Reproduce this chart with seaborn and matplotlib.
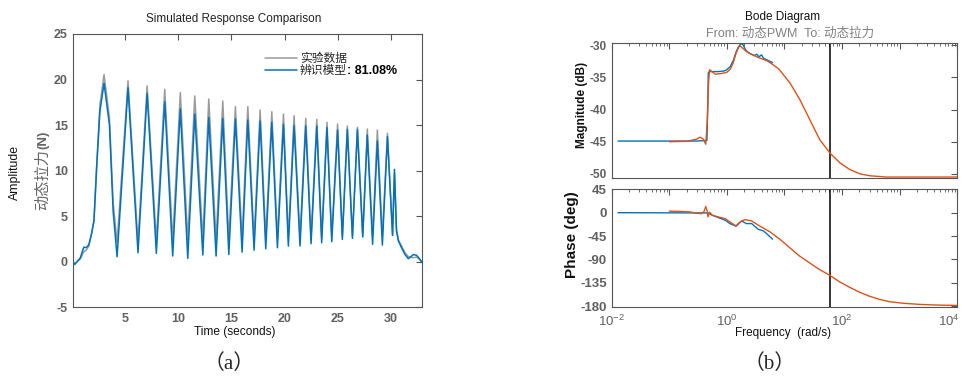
import math
import seaborn as sns
import matplotlib.pyplot as plt
from matplotlib.ticker import LogLocator, FuncFormatter, NullFormatter, MultipleLocator

# (a) simulated response comparison
time_s = [0.0, 0.23, 0.76, 1.08, 1.3, 1.55, 1.8, 2.04, 2.3, 2.6, 2.99, 3.5, 3.85, 4.22,
          5.25, 6.19, 7.05, 7.92, 8.71, 9.46, 10.18, 10.88, 11.54, 12.3, 12.86, 13.55,
          14.18, 14.75, 15.37, 16.0, 16.54, 17.13, 17.7, 18.23, 18.8, 19.33, 19.9, 20.36,
          20.9, 21.46, 22.0, 22.5, 23.04, 23.5, 24.0, 24.45, 25.0, 25.45, 25.92, 26.4,
          26.87, 27.37, 27.8, 28.3, 28.75, 29.22, 29.7, 30.18, 30.36, 30.55, 30.73, 31.0,
          31.35, 31.67, 31.9, 32.14, 32.45, 32.7, 32.96]
measured_N = [0.1, -0.2, 0.3, 1.1, 1.25, 1.7, 3.0, 4.5, 10.6, 17.2, 20.55, 15.8, 6.5, 2.1,
              19.84, 2.2, 19.29, 2.3, 18.93, 2.3, 18.56, 2.4, 18.2, 2.4, 17.87, 2.4,
              17.65, 2.5, 17.02, 2.5, 17.02, 2.5, 16.66, 2.6, 16.47, 2.6, 16.22, 2.6,
              16.03, 2.7, 15.74, 2.7, 15.63, 2.7, 15.3, 2.8, 15.12, 2.8, 14.9, 2.8,
              14.76, 2.9, 14.57, 2.8, 14.46, 2.8, 14.1, 2.9, 9.7, 3.6, 2.4, 1.8,
              1.0, 0.55, 0.5, 0.45, 0.5, 0.3, 0.0]
model_N = [0.1, -0.3, 0.45, 1.6, 1.55, 1.85, 3.0, 4.5, 10.5, 16.5, 19.6, 15.0, 5.5, 0.55,
           19.1, 0.99, 18.49, 0.92, 17.57, 0.63, 16.77, 0.37, 16.22, 0.74, 15.85, 0.63,
           15.74, 0.8, 15.67, 1.06, 15.56, 1.28, 15.45, 1.43, 15.3, 1.54, 15.09, 1.72,
           14.94, 1.72, 14.9, 1.98, 14.9, 2.09, 14.72, 2.2, 14.46, 2.46, 14.53, 2.57,
           14.53, 2.71, 13.91, 1.91, 13.25, 1.83, 13.73, 2.9, 10.15, 3.4, 2.3, 1.6,
           0.8, 0.33, 0.55, 0.8, 0.7, 0.35, -0.1]
fit_pct = 81.08

# (b) bode diagram
meas_freq = [0.0129, 0.1, 0.3, 0.45, 0.465, 0.475, 0.5, 0.7, 0.9, 1.0, 1.15, 1.3, 1.45,
             1.6, 1.75, 1.9, 2.1, 2.4, 2.7, 3.0, 3.3, 3.6, 4.0, 4.3, 5.0, 6.2]
meas_mag_db = [-44.9, -44.9, -44.9, -44.8, -40.0, -34.3, -34.1, -34.1, -34.0, -33.8, -33.3,
               -32.3, -31.0, -30.2, -29.75, -29.9, -30.7, -31.2, -31.4, -31.6, -31.4,
               -31.8, -31.5, -32.0, -32.3, -32.7]
meas_ph_freq = [0.0129, 0.47, 0.56, 0.94, 1.13, 1.44, 1.8, 2.19, 2.7, 3.1, 3.5, 4.3, 5.2, 6.2]
meas_phase_deg = [0, -0.5, -5, -14.6, -21, -26, -16, -21, -21, -27, -32, -35, -43, -51]

model_freq = [0.1, 0.2, 0.3, 0.34, 0.39, 0.43, 0.455, 0.48, 0.5, 0.55, 0.63, 0.8, 1.0, 1.15,
              1.28, 1.45, 1.6, 1.7, 1.85, 2.2, 2.7, 3.5, 4.9, 5.6, 8.0, 12.5, 18.6, 27.6,
              41, 62, 92, 137, 204, 302, 590, 10000]
model_mag_db = [-45.0, -44.95, -44.6, -44.3, -44.6, -45.4, -42.0, -36.0, -33.8, -34.1, -34.5,
                -34.4, -34.2, -33.7, -32.8, -31.2, -30.3, -30.1, -30.4, -31.0, -31.45, -31.9,
                -32.4, -32.7, -33.7, -35.9, -38.5, -41.6, -44.7, -46.8, -48.3, -49.35, -50.0,
                -50.3, -50.5, -50.5]
model_ph_freq = [0.1, 0.15, 0.23, 0.3, 0.36, 0.4, 0.43, 0.455, 0.47, 0.5, 0.56, 0.7, 0.94,
                 1.13, 1.44, 1.69, 2.06, 2.7, 3.76, 5.6, 8.3, 12.5, 18, 27.6, 40, 62, 90,
                 137, 200, 302, 450, 680, 1200, 2240, 5000, 10000]
model_phase_deg = [3, 2.5, 1.5, -1, -2, 2, 12, 3, -8, 1, -5, -8, -11.5, -18, -25.4, -18,
                   -13.3, -16, -26, -37, -51, -68, -83, -97, -109, -121, -133, -144, -153,
                   -161, -167, -171.6, -174.5, -176.6, -178, -178.5]
nyquist = 62.83

sns.set_style('white')
plt.rcParams['font.family'] = ['Liberation Sans', 'Noto Sans CJK SC']
plt.rcParams['mathtext.fontset'] = 'custom'
plt.rcParams['mathtext.rm'] = 'Liberation Sans'
plt.rcParams['mathtext.bf'] = 'Liberation Sans:bold'
plt.rcParams['axes.unicode_minus'] = False
plt.rcParams['axes.edgecolor'] = '#555555'
plt.rcParams['axes.linewidth'] = 0.8

gray = '#9a9a9a'
blue = '#0072BD'
orange = '#D95319'
tick_gray = '#606060'

fig = plt.figure(figsize=(9.66, 3.76), dpi=100)
ax_t = fig.add_axes([0.0753, 0.1827, 0.3616, 0.7269])
ax_m = fig.add_axes([0.6332, 0.5274, 0.3578, 0.3574])
ax_p = fig.add_axes([0.6332, 0.1843, 0.3578, 0.3122])


def style_ticks(ax):
    ax.tick_params(which='both', direction='in', top=True, right=True,
                   color='#555555', labelcolor=tick_gray)
    ax.tick_params(which='major', length=4, width=0.8)
    ax.tick_params(which='minor', length=2, width=0.6)


# ---- (a)
sns.lineplot(x=time_s, y=measured_N, ax=ax_t, color=gray, linewidth=1.1,
             estimator=None, label='实验数据')
sns.lineplot(x=time_s, y=model_N, ax=ax_t, color=blue, linewidth=1.1,
             estimator=None, label='辨识模型')
ax_t.set_xlim(0.04, 32.96)
ax_t.set_ylim(-5, 25)
ax_t.xaxis.set_major_locator(MultipleLocator(5))
ax_t.yaxis.set_major_locator(MultipleLocator(5))
style_ticks(ax_t)
ax_t.tick_params(axis='x', pad=4)
for lab in ax_t.get_xticklabels() + ax_t.get_yticklabels():
    lab.set_fontweight('bold')
    lab.set_fontsize(9)
leg = ax_t.legend(loc='upper left', bbox_to_anchor=(0.55, 0.93), frameon=False,
                  fontsize=8.5, handlelength=2.7, handletextpad=0.25, labelspacing=0.0,
                  borderaxespad=0, borderpad=0)

fig.text(0.2422, 0.9495, 'Simulated Response Comparison', ha='center', va='center',
         fontsize=8.5, color='#222222')
fig.text(0.0155, 0.54, 'Amplitude', rotation=90, ha='center', va='center',
         fontsize=8.8, color='#111111')
cjk_lab = fig.text(0.0445, 0.5213, '动态拉力', rotation=90, ha='center', va='center',
                   fontsize=11, color='#666666')
fig.text(0.2433, 0.116, 'Time (seconds)', ha='center', va='center', fontsize=8.6,
         color='#111111')

# ---- (b)
for ax in (ax_m, ax_p):
    ax.set_xscale('log')
    ax.set_xlim(1e-2, 1e4)
    ax.axvline(nyquist, color='black', linewidth=1.1)
    ax.xaxis.set_major_locator(LogLocator(base=10, numticks=12))
    ax.xaxis.set_minor_locator(LogLocator(base=10, subs=range(2, 10), numticks=12))
    ax.xaxis.set_minor_formatter(NullFormatter())
    style_ticks(ax)

sns.lineplot(x=model_freq, y=model_mag_db, ax=ax_m, color=orange, linewidth=1.0,
             estimator=None, zorder=3)
sns.lineplot(x=meas_freq, y=meas_mag_db, ax=ax_m, color=blue, linewidth=1.0,
             estimator=None, zorder=2)
sns.lineplot(x=model_ph_freq, y=model_phase_deg, ax=ax_p, color=orange, linewidth=1.0,
             estimator=None, zorder=3)
sns.lineplot(x=meas_ph_freq, y=meas_phase_deg, ax=ax_p, color=blue, linewidth=1.0,
             estimator=None, zorder=2)

ax_m.set_ylim(-50.6, -29.7)
ax_m.yaxis.set_major_locator(MultipleLocator(5))
ax_m.xaxis.set_major_formatter(NullFormatter())
ax_p.set_ylim(-181, 45)
ax_p.yaxis.set_major_locator(MultipleLocator(45))


def even_decades(v, pos):
    # last decade label is drawn separately, nudged inside like matlab does
    e = int(round(math.log10(v)))
    return r'$10^{%d}$' % e if e % 2 == 0 and e < 4 else ''


ax_p.xaxis.set_major_formatter(FuncFormatter(even_decades))
ax_p.tick_params(axis='x', labelsize=9.5, pad=5)
ax_p.annotate(r'$10^{4}$', xy=(1, 0), xycoords='axes fraction', xytext=(-6.3, -5),
              textcoords='offset points', ha='center', va='top', fontsize=9.5,
              color=tick_gray)
for ax, size in ((ax_m, 8.5), (ax_p, 9.5)):
    ax.set_xlabel('')
    ax.set_ylabel('')
    for lab in ax.get_yticklabels():
        lab.set_fontweight('bold')
        lab.set_fontsize(size)

fig.text(0.8102, 0.9556, 'Bode Diagram', ha='center', va='center', fontsize=8.5,
         color='#111111')
fig.text(0.8178, 0.9114, 'From: 动态PWM  To: 动态拉力', ha='center', va='center',
         fontsize=9, color='#808080')
fig.text(0.6022, 0.7207, 'Magnitude (dB)', rotation=90, ha='center', va='center',
         fontsize=8.5, fontweight='bold', color='#111111')
fig.text(0.5924, 0.375, 'Phase (deg)', rotation=90, ha='center', va='center',
         fontsize=11, fontweight='bold', color='#111111')
fig.text(0.8102, 0.1144, 'Frequency  (rad/s)', ha='center', va='center', fontsize=8.5,
         color='#111111')

cap_font = ['Liberation Serif', 'Noto Sans CJK SC']
fig.text(0.237, 0.032, '（a）', ha='center', va='center', fontsize=15, family=cap_font)
fig.text(0.797, 0.032, '（b）', ha='center', va='center', fontsize=15, family=cap_font)

# pieces that follow other texts: bold fit percentage, bold unit
fig.canvas.draw()
W, H = fig.bbox.width, fig.bbox.height
bb = leg.get_texts()[1].get_window_extent()
fig.text(bb.x1 / W, (bb.y0 + bb.y1) / 2 / H, ': %.2f%%' % fit_pct, ha='left',
         va='center', fontsize=9, fontweight='bold', color='black')
cb = cjk_lab.get_window_extent()
fig.text(0.0445, (cb.y1 + 0.5) / H, '(N)', rotation=90, ha='center', va='bottom',
         fontsize=9.5, fontweight='bold', color='#666666')

fig.savefig('out.png', dpi=100)
